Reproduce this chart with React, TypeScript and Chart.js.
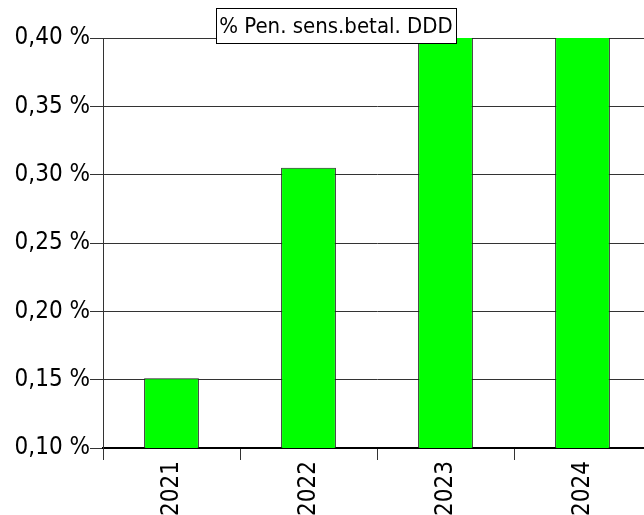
import React, { useEffect, useRef } from "react";
import { Chart, registerables } from "chart.js";

Chart.register(...registerables);

const categories: string[] = ["2021", "2022", "2023", "2024"];
const seriesValues: number[] = [0.151, 0.305, 0.43, 0.46];
const seriesLabel = "% Pen. sens.betal. DDD";
const yMin = 0.1;
const yMax = 0.4;
const yStep = 0.05;

const FONT = "'DejaVu Sans Condensed', 'DejaVu Sans', sans-serif";
const CANVAS_W = 660;
const CANVAS_H = 515;

const titleBoxPlugin = {
  id: "titleBox",
  afterDraw(chart: any) {
    const ctx = chart.ctx as CanvasRenderingContext2D;
    ctx.save();
    ctx.font = `22px ${FONT}`;
    const cx = 336;
    const boxW = 240;
    const boxH = 35;
    const x = Math.round(cx - boxW / 2) + 0.5;
    const y = 8.5;
    ctx.fillStyle = "#ffffff";
    ctx.fillRect(x, y, boxW, boxH);
    ctx.strokeStyle = "#000000";
    ctx.lineWidth = 1;
    ctx.strokeRect(x, y, boxW, boxH);
    ctx.fillStyle = "#000000";
    ctx.textAlign = "center";
    ctx.textBaseline = "middle";
    ctx.fillText(seriesLabel, cx, y + boxH / 2 + 1);
    ctx.restore();
  },
};

export default function App() {
  const canvasRef = useRef<HTMLCanvasElement | null>(null);

  useEffect(() => {
    if (!canvasRef.current) return;
    const chart = new Chart(canvasRef.current, {
      type: "bar",
      data: {
        labels: categories,
        datasets: [
          {
            label: seriesLabel,
            data: seriesValues,
            backgroundColor: "#00ff00",
            borderColor: "#222222",
            borderWidth: 1,
            categoryPercentage: 1,
            barPercentage: 0.4,
            clip: 0,
          } as any,
        ],
      },
      options: {
        animation: false,
        responsive: false,
        maintainAspectRatio: false,
        layout: { padding: { top: 38, right: CANVAS_W - 651, left: 0, bottom: 0 } },
        plugins: {
          legend: { display: false },
          title: { display: false },
          tooltip: { enabled: false },
        },
        scales: {
          x: {
            type: "category",
            offset: true,
            grid: {
              offset: true,
              drawOnChartArea: false,
              drawTicks: true,
              tickLength: 12,
              color: "#333333",
              lineWidth: 1,
            },
            border: { display: true, color: "#000000", width: 2 },
            ticks: {
              autoSkip: false,
              minRotation: 90,
              maxRotation: 90,
              padding: 1,
              color: "#000000",
              font: { family: FONT, size: 24 },
            },
            afterFit(scale: any) {
              scale.height = CANVAS_H - 448;
              scale.paddingLeft = 0;
              scale.paddingRight = 0;
            },
          },
          y: {
            type: "linear",
            min: yMin,
            max: yMax,
            grid: {
              drawOnChartArea: true,
              drawTicks: true,
              tickLength: 13,
              color: "#333333",
              lineWidth: 1,
            },
            border: { display: true, color: "#333333", width: 1 },
            ticks: {
              stepSize: yStep,
              padding: 0,
              color: "#000000",
              font: { family: FONT, size: 24 },
              callback: (v: any) => Number(v).toFixed(2).replace(".", ",") + " %",
            },
            afterFit(scale: any) {
              scale.width = 103;
              scale.paddingTop = 0;
              scale.paddingBottom = 0;
            },
          },
        },
      },
      plugins: [titleBoxPlugin],
    });
    return () => chart.destroy();
  }, []);

  return (
    <div
      style={{
        position: "absolute",
        left: 0,
        top: 0,
        width: 644,
        height: 515,
        overflow: "hidden",
        background: "#ffffff",
      }}
    >
      <canvas
        ref={canvasRef}
        width={CANVAS_W}
        height={CANVAS_H}
        style={{ display: "block", width: CANVAS_W, height: CANVAS_H }}
      />
    </div>
  );
}
